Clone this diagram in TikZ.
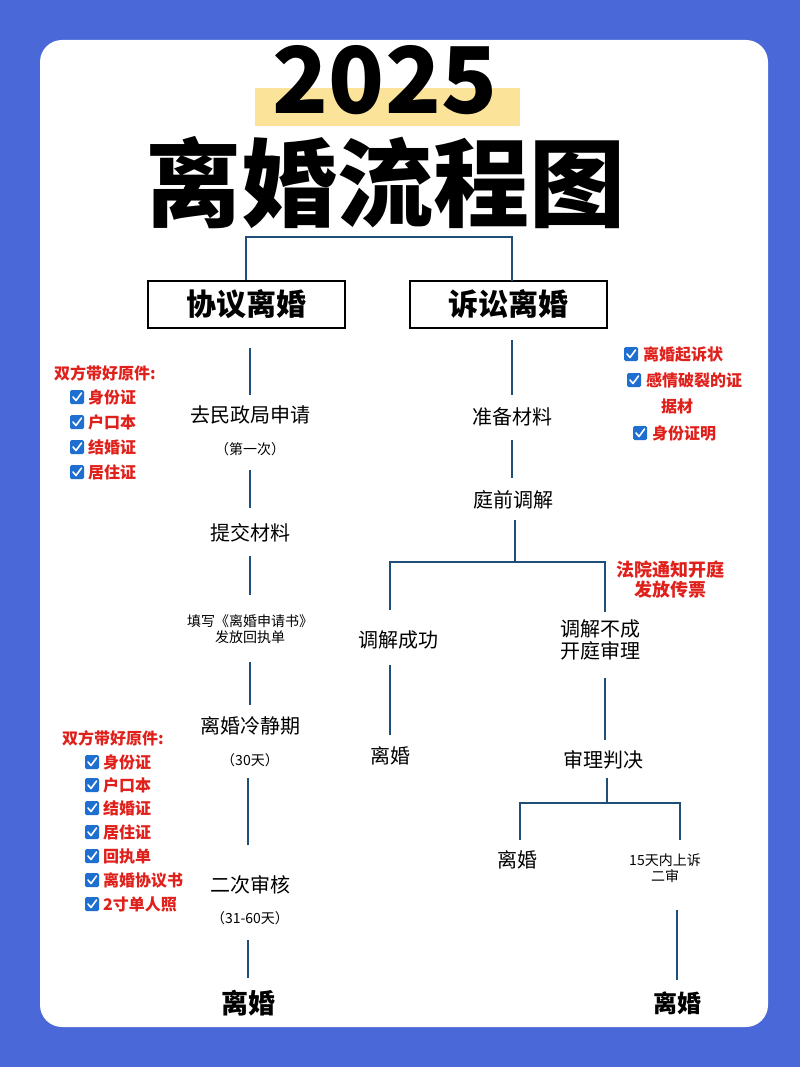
\documentclass[tikz,border=0pt]{standalone}
\usepackage{fontspec}
\setmainfont{Noto Sans CJK SC}
\definecolor{bg}{HTML}{4A68D8}
\definecolor{ln}{HTML}{1F4E79}
\definecolor{yl}{HTML}{FBE49A}
\definecolor{rd}{HTML}{E0201B}
\definecolor{ck}{HTML}{1E6FD0}
\begin{document}
\begin{tikzpicture}[x=1pt,y=-1pt,
 t/.style={font=\fontsize{20}{22}\selectfont,inner sep=1pt},
 s/.style={font=\fontsize{14}{16}\selectfont,inner sep=1pt},
 b/.style={font=\fontsize{27}{29}\selectfont\bfseries,inner sep=1pt},
 r/.style={font=\fontsize{16}{18}\selectfont\bfseries,text=rd,inner sep=1pt,anchor=west},
 rc/.style={font=\fontsize{16}{18}\selectfont\bfseries,text=rd,inner sep=1pt},
 bx/.style={draw=black,line width=2pt,minimum width=197,minimum height=47,font=\fontsize{30}{32}\selectfont\bfseries},
 l/.style={ln,line width=2.5pt},
 ck/.pic={\fill[ck,rounded corners=1.5] (-7,-7) rectangle (7,7);
  \draw[white,line width=1.6pt,line cap=round,line join=round] (-4,0)--(-1,3.5)--(4.5,-4);}]
\useasboundingbox (0,0) rectangle (800,1067);
\fill[bg] (0,0) rectangle (800,1067);
\fill[white,rounded corners=22] (40,40) rectangle (768,1027);
\fill[yl] (255,88) rectangle (520,126);
\node[font=\fontsize{92}{94}\selectfont\bfseries] (yr) at (385,80) {2025};
\node[font=\fontsize{96}{98}\selectfont\bfseries] (tt) at (385,183) {离婚流程图};
% top tree
\node[bx] (xy) at (246,304) {协议离婚};
\node[bx] (ss) at (508,304) {诉讼离婚};
\draw[l] (xy.north) -- (246,237) -- (512,237) -- (512,280.5);
% left column
\coordinate (l0) at (250,348);
\node[t] (a1) at (250,415) {去民政局申请};
\node[s] (a1s) at (250,449) {（第一次）};
\node[t] (a2) at (250,533) {提交材料};
\node[s,align=center] (a3) at (250,629) {填写《离婚申请书》\\发放回执单};
\node[t] (a4) at (250,726) {离婚冷静期};
\node[s] (a4s) at (250,760) {（30天）};
\node[t] (a5) at (250,885) {二次审核};
\node[s] (a5s) at (250,918) {（31-60天）};
\node[b] (a6) at (248,1003) {离婚};
\draw[l] (l0) -- (250,395);
\draw[l] (250,470) -- (250,508);
\draw[l] (250,556) -- (250,595);
\draw[l] (250,662) -- (250,705);
\draw[l] (248,778) -- (248,845);
\draw[l] (248,940) -- (248,978);
% right column
\node[t] (b1) at (512,417) {准备材料};
\node[t] (b2) at (513,500) {庭前调解};
\draw[l] (512,340) -- (512,395);
\draw[l] (512,440) -- (512,478);
\draw[l] (515,520) -- (515,562);
\draw[l] (390,610) -- (390,562) -- (605,562) -- (605,612);
\node[t] (c1) at (398,640) {调解成功};
\node[t,align=center] (c2) at (600,640) {调解不成\\开庭审理};
\node[t] (c3) at (390,756) {离婚};
\draw[l] (390,665) -- (390,735);
\draw[l] (605,678) -- (605,740);
\node[t] (d1) at (603,760) {审理判决};
\draw[l] (607,778) -- (607,803);
\draw[l] (520,840) -- (520,803) -- (680,803) -- (680,840);
\node[t] (e1) at (517,860) {离婚};
\node[s,align=center,inner sep=3pt] (e2) at (665,868) {15天内上诉\\二审};
\draw[l] (677,910) -- (677,980);
\node[font=\fontsize{24}{26}\selectfont\bfseries] (e3) at (677,1003) {离婚};
% red notes
\node[rc] (n1) at (105,373) {双方带好原件:};
\foreach \y/\w in {397/身份证,422/户口本,447/结婚证,472/居住证}{
 \pic at (77,\y) {ck}; \node[r] at (87,\y) {\w};}
\node[rc] (n2) at (113,738) {双方带好原件:};
\foreach \y/\w in {762/身份证,785/户口本,808/结婚证,832/居住证,856/回执单,880/离婚协议书,904/2寸单人照}{
 \pic at (92,\y) {ck}; \node[r] at (102,\y) {\w};}
\pic at (631,354) {ck}; \node[r] (m1) at (642,354) {离婚起诉状};
\pic at (634,380) {ck}; \node[r] (m2) at (645,380) {感情破裂的证};
\node[r] (m3) at (660,406) {据材};
\pic at (640,433) {ck}; \node[r] (m4) at (651,433) {身份证明};
\node[font=\fontsize{18}{20}\selectfont\bfseries,text=rd,align=center] (m5) at (670,580) {法院通知开庭\\发放传票};
\end{tikzpicture}
\end{document}
